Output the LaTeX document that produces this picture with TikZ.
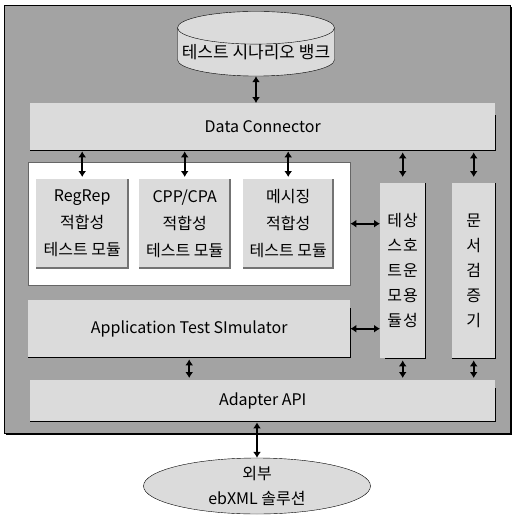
\documentclass[tikz,border=0pt]{standalone}
\usepackage{fontspec}
\setmainfont{Noto Sans CJK KR}
\usetikzlibrary{shapes.geometric,arrows.meta}
\definecolor{bggray}{gray}{0.64}
\definecolor{litegray}{gray}{0.86}
\tikzset{
  layer/.style={fill=litegray, inner sep=0pt, anchor=north west, font=\fontsize{16}{18}\selectfont},
  modbox/.style={fill=litegray, inner sep=0pt, anchor=north west, align=center, font=\fontsize{16}{27}\selectfont},
  vbox/.style={fill=litegray, inner sep=0pt, anchor=north west, align=center, font=\fontsize{16}{25}\selectfont},
  edge/.style={line width=1.2pt},
  shade/.style={line width=2pt, black!55},
  link/.style={<->, line width=1.6pt, >={Latex[length=6pt,width=8pt]}},
}
\begin{document}
\begin{tikzpicture}[x=1pt,y=-1pt]
	\useasboundingbox (0,0) rectangle (512,515);
	% background panel
	\fill[bggray] (4,5) rectangle (510,433);
	\draw[thin] (4,5) rectangle (510,433);
	\draw[line width=2pt] (6,434) -- (511,434) -- (511,7);

	\node[cylinder, shape border rotate=90, aspect=0.22, draw, fill=litegray, minimum width=157pt, minimum height=45pt, inner sep=0pt, font=\fontsize{17}{18}\selectfont] (bank) at (256,52) {테스트 시나리오 뱅크};

	\node[layer, minimum width=465pt, minimum height=47pt] (dataconn) at (30,103) {Data Connector};
	\draw[edge] ([yshift=-12pt]dataconn.north east) -- (dataconn.south east) -- (dataconn.south west);

	% test module group
	\node[fill=white, draw=black!60, thin, anchor=north west, minimum width=322pt, minimum height=123pt, inner sep=0pt] (suite) at (28,162) {};
	\node[modbox, minimum width=92pt, minimum height=89pt] (regrep) at (36,179) {RegRep\\적합성\\테스트 모듈};
	\node[modbox, minimum width=91pt, minimum height=89pt] (cppcpa) at (139,179) {CPP/CPA\\적합성\\테스트 모듈};
	\node[modbox, minimum width=90pt, minimum height=89pt] (msg) at (243,179) {메시징\\적합성\\테스트 모듈};
	\foreach \m in {regrep,cppcpa,msg}
		\draw[shade] (\m.north east) -- (\m.south east) -- (\m.south west);

	\node[layer, minimum width=322pt, minimum height=57pt] (appsim) at (28,300) {Application Test SImulator};
	\draw[edge] ([yshift=-8pt]appsim.north east) -- (appsim.south east) -- (appsim.south west);

	\node[vbox, minimum width=45pt, minimum height=175pt] (interop) at (380,183) {테\hspace{1pt}상\\스\hspace{1pt}호\\트\hspace{1pt}운\\모\hspace{1pt}용\\듈\hspace{1pt}성};
	\draw[edge] (interop.north east) -- (interop.south east) -- ([xshift=5pt]interop.south west);
	\node[vbox, minimum width=43pt, minimum height=175pt] (docval) at (452,183) {문\\서\\검\\증\\기};
	\draw[edge] (docval.north east) -- (docval.south east) -- (docval.south west);

	\node[layer, minimum width=465pt, minimum height=41pt] (adapter) at (30,380) {Adapter API};
	\draw[edge] ([yshift=-8pt]adapter.north east) -- (adapter.south east) -- (adapter.south west);

	\node[ellipse, draw, fill=litegray, minimum width=227pt, minimum height=56pt, inner sep=0pt, align=center, font=\fontsize{16}{25}\selectfont] (ext) at (257,486) {외부\\ebXML 솔루션};

	% connectors
	\draw[link] (bank.south) -- (bank.south |- dataconn.north);
	\foreach \m in {regrep,cppcpa,msg}
		\draw[link] ([yshift=-1pt]\m.north |- dataconn.south) -- ([yshift=2pt]\m.north);
	\foreach \m in {interop,docval}
		\draw[link] ([yshift=-2pt]\m.north |- dataconn.south) -- ([yshift=6pt]\m.north);
	\draw[link] (suite.east) -- (suite.east -| interop.west);
	\draw[link] (appsim.east) -- (appsim.east -| interop.west);
	\draw[link] ([yshift=-2pt]appsim.south) -- ([yshift=2pt]appsim.south |- adapter.north);
	\foreach \m in {interop,docval}
		\draw[link] ([yshift=-2pt]\m.south) -- ([yshift=2pt]\m.south |- adapter.north);
	\draw[link] ([yshift=-1pt]ext.north |- adapter.south) -- (ext.north);
\end{tikzpicture}
\end{document}
